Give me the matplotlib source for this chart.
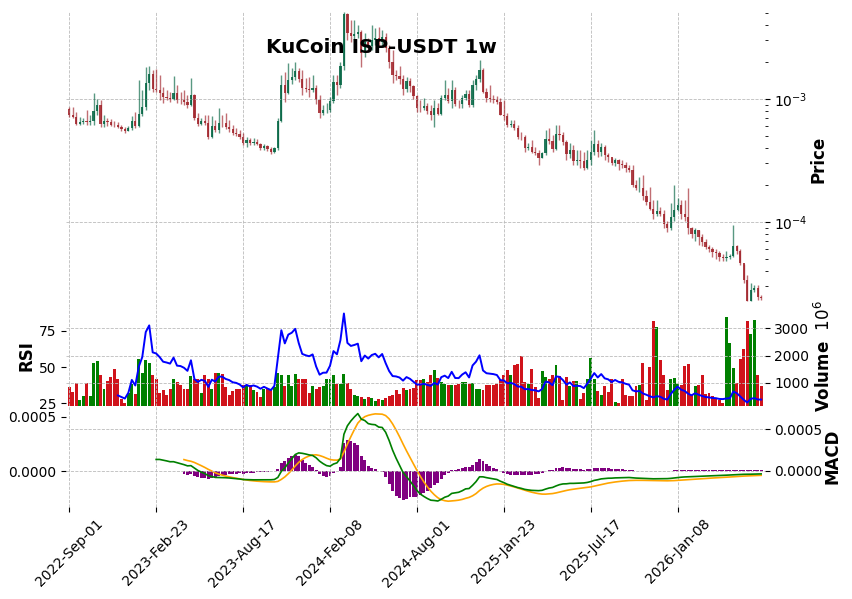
import numpy as np
import pandas as pd
import matplotlib
matplotlib.use('Agg')
import matplotlib.pyplot as plt
from matplotlib.ticker import MultipleLocator, FormatStrFormatter

# weekly candles from 2022-09-01, prices in 1e-3 USDT, volume in 1e6
start_date = '2022-09-01'
first_open = 0.83

close_k = [
    0.746, 0.718, 0.630, 0.654, 0.666, 0.654, 0.666, 0.803, 0.899, 0.630,
    0.666, 0.654, 0.619, 0.615, 0.596, 0.574, 0.553, 0.585, 0.666, 0.607,
    0.760, 0.866, 1.36, 1.61, 1.21, 1.19, 1.125, 1.04, 1.025, 1.006,
    1.125, 0.987, 0.98, 0.951, 0.899, 1.08, 0.705, 0.630, 0.666, 0.642,
    0.494, 0.607, 0.563, 0.642, 0.640, 0.596, 0.574, 0.533, 0.522, 0.494,
    0.441, 0.467, 0.441, 0.450, 0.433, 0.402, 0.417, 0.394, 0.373, 0.402,
    0.666, 1.31, 1.125, 1.44, 1.52, 1.70, 1.46, 1.24, 1.21, 1.19,
    1.24, 0.987, 0.774, 0.818, 0.82, 0.969, 1.38, 1.31, 1.87, 4.94,
    3.46, 3.27, 3.38, 3.52, 2.38, 2.92, 2.70, 3.03, 3.15, 2.92,
    3.21, 2.61, 2.01, 1.58, 1.55, 1.46, 1.21, 1.41, 1.28, 1.06,
    0.850, 0.845, 0.882, 0.803, 0.746, 0.850, 0.760, 1.025, 1.08, 0.969,
    1.19, 0.916, 0.91, 1.025, 1.10, 0.899, 1.31, 1.46, 1.73, 1.15,
    1.025, 1.006, 0.987, 0.951, 0.746, 0.732, 0.619, 0.630, 0.585, 0.494,
    0.49, 0.402, 0.405, 0.373, 0.366, 0.333, 0.366, 0.476, 0.458, 0.394,
    0.522, 0.513, 0.450, 0.359, 0.387, 0.315, 0.318, 0.313, 0.276, 0.321,
    0.373, 0.433, 0.373, 0.409, 0.352, 0.339, 0.303, 0.321, 0.298, 0.292,
    0.276, 0.266, 0.201, 0.187, 0.19, 0.161, 0.146, 0.128, 0.117, 0.122,
    0.117, 0.0969, 0.0899, 0.110, 0.126, 0.138, 0.117, 0.109, 0.0899, 0.0790,
    0.0852, 0.0760, 0.0683, 0.0621, 0.0597, 0.0565, 0.0554, 0.0515, 0.051, 0.052,
    0.0525, 0.0632, 0.0575, 0.0460, 0.0339, 0.0229, 0.0281, 0.0292, 0.0246, 0.0242,
]

high_k = [
    0.866, 0.866, 0.788, 0.718, 0.705, 0.818, 0.746, 1.125, 1.006, 0.987,
    0.746, 0.705, 0.692, 0.666, 0.654, 0.619, 0.596, 0.607, 0.732, 0.788,
    1.44, 1.19, 1.83, 1.87, 1.73, 1.75, 1.58, 1.26, 1.19, 1.15,
    1.55, 1.31, 1.15, 1.19, 1.08, 1.49, 1.10, 0.774, 0.705, 0.746,
    0.746, 0.732, 0.679, 0.850, 0.746, 0.774, 0.679, 0.619, 0.585, 0.563,
    0.533, 0.494, 0.485, 0.485, 0.476, 0.441, 0.433, 0.425, 0.409, 0.409,
    0.705, 1.58, 1.67, 1.97, 1.80, 2.01, 1.80, 1.73, 1.49, 1.52,
    1.58, 1.31, 1.08, 0.899, 0.935, 1.04, 1.58, 1.58, 2.01, 5.14,
    5.0, 4.41, 4.41, 4.0, 3.66, 3.46, 3.15, 4.0, 3.80, 3.87,
    3.66, 3.46, 2.76, 2.52, 1.73, 1.87, 1.58, 1.52, 1.49, 1.31,
    1.08, 0.987, 1.025, 0.935, 0.899, 0.987, 0.935, 1.08, 1.44, 1.24,
    1.44, 1.26, 0.987, 1.08, 1.19, 1.19, 1.44, 1.58, 2.09, 1.80,
    1.24, 1.31, 1.08, 1.06, 1.025, 0.987, 0.774, 0.679, 0.679, 0.619,
    0.543, 0.513, 0.441, 0.467, 0.409, 0.387, 0.373, 0.563, 0.585, 0.513,
    0.619, 0.619, 0.543, 0.467, 0.441, 0.425, 0.387, 0.387, 0.373, 0.387,
    0.467, 0.563, 0.467, 0.441, 0.425, 0.366, 0.333, 0.333, 0.327, 0.321,
    0.309, 0.292, 0.292, 0.221, 0.230, 0.242, 0.183, 0.194, 0.152, 0.152,
    0.131, 0.126, 0.101, 0.143, 0.201, 0.157, 0.152, 0.152, 0.190, 0.0917,
    0.0899, 0.0866, 0.0790, 0.0721, 0.0650, 0.0621, 0.0597, 0.0575, 0.0543, 0.0575,
    0.0543, 0.0951, 0.0650, 0.0597, 0.0451, 0.0372, 0.0320, 0.0309, 0.0309, 0.0254,
]

low_k = [
    0.718, 0.705, 0.619, 0.619, 0.630, 0.619, 0.619, 0.619, 0.746, 0.596,
    0.596, 0.607, 0.607, 0.596, 0.585, 0.553, 0.533, 0.545, 0.563, 0.585,
    0.596, 0.732, 0.818, 1.19, 1.15, 1.15, 0.987, 0.935, 0.987, 0.951,
    0.987, 0.935, 0.916, 0.899, 0.850, 0.882, 0.679, 0.607, 0.619, 0.619,
    0.476, 0.485, 0.543, 0.533, 0.596, 0.574, 0.543, 0.513, 0.503, 0.476,
    0.425, 0.409, 0.425, 0.425, 0.425, 0.387, 0.387, 0.380, 0.359, 0.366,
    0.387, 0.654, 0.951, 1.10, 1.33, 1.44, 1.38, 1.08, 1.15, 1.04,
    1.15, 0.916, 0.705, 0.746, 0.774, 0.788, 0.935, 1.08, 1.24, 1.73,
    3.03, 2.92, 3.03, 3.15, 1.83, 2.21, 2.43, 2.52, 2.76, 2.70,
    2.70, 2.43, 1.80, 1.36, 1.44, 1.33, 1.08, 1.15, 1.15, 1.006,
    0.788, 0.788, 0.818, 0.760, 0.679, 0.596, 0.746, 0.746, 0.987, 0.935,
    0.850, 0.882, 0.850, 0.850, 0.987, 0.866, 0.866, 1.19, 1.38, 1.12,
    0.951, 0.951, 0.935, 0.916, 0.74, 0.679, 0.596, 0.596, 0.563, 0.476,
    0.467, 0.373, 0.387, 0.366, 0.352, 0.292, 0.33, 0.352, 0.433, 0.373,
    0.385, 0.467, 0.425, 0.321, 0.333, 0.292, 0.292, 0.276, 0.266, 0.27,
    0.292, 0.352, 0.339, 0.346, 0.321, 0.309, 0.292, 0.284, 0.266, 0.276,
    0.256, 0.256, 0.194, 0.183, 0.174, 0.152, 0.136, 0.126, 0.105, 0.112,
    0.112, 0.0899, 0.0820, 0.0866, 0.101, 0.122, 0.105, 0.101, 0.0790, 0.0744,
    0.0696, 0.0650, 0.0632, 0.0597, 0.0565, 0.0515, 0.0496, 0.0477, 0.0477, 0.0477,
    0.0496, 0.0515, 0.0543, 0.0443, 0.0320, 0.0225, 0.0225, 0.0268, 0.0233, 0.0233,
]

vol_m = [
    838, 653, 985, 381, 505, 985, 505, 1740, 1790, 1270,
    777, 1048, 1208, 1517, 1147, 406, 246, 628, 936, 591,
    1863, 1357, 1826, 1740, 1270, 1147, 628, 714, 554, 777,
    1122, 1023, 924, 777, 752, 1245, 1147, 1122, 628, 1295,
    1147, 752, 1369, 1369, 1332, 838, 530, 678, 752, 752,
    900, 875, 924, 714, 653, 468, 777, 777, 777, 838,
    1369, 1295, 875, 1270, 863, 1332, 1147, 1147, 1147, 628,
    863, 752, 838, 875, 1147, 1122, 1270, 961, 936, 1332,
    985, 777, 554, 493, 468, 406, 468, 431, 320, 406,
    381, 431, 493, 554, 714, 591, 801, 740, 777, 801,
    1110, 1085, 1122, 1023, 1270, 1480, 1170, 1023, 961, 900,
    900, 900, 961, 1023, 1023, 961, 1000, 752, 752, 714,
    924, 900, 900, 961, 1085, 1270, 1455, 1270, 1665, 1702,
    1986, 1023, 961, 1492, 838, 431, 1418, 1209, 1150, 1270,
    1665, 1246, 381, 1196, 875, 1048, 1048, 406, 628, 1122,
    1900, 1122, 678, 554, 875, 653, 1147, 308, 258, 1147,
    530, 505, 505, 875, 900, 1740, 381, 1579, 3270, 3060,
    1826, 1270, 714, 1147, 1170, 961, 900, 1616, 1702, 554,
    863, 924, 1295, 591, 628, 505, 431, 345, 258, 3420,
    2480, 1542, 1000, 1863, 2233, 3270, 2776, 3307, 1270, 875,
]

closes = np.array(close_k) * 1e-3
opens = np.array([first_open] + close_k[:-1]) * 1e-3
highs = np.array(high_k) * 1e-3
lows = np.array(low_k) * 1e-3
vols = np.array(vol_m, dtype=float)
n = len(closes)
x = np.arange(n)
dates = pd.date_range(start_date, periods=n, freq='7D')

# indicators from the closes
s = pd.Series(closes)
d = s.diff()
gain = d.clip(lower=0).ewm(alpha=1 / 14, adjust=False, min_periods=14).mean()
loss = (-d.clip(upper=0)).ewm(alpha=1 / 14, adjust=False, min_periods=14).mean()
rsi = 100 - 100 / (1 + gain / loss)
ema12 = s.ewm(span=12, adjust=False, min_periods=12).mean()
ema26 = s.ewm(span=26, adjust=False, min_periods=26).mean()
macd = ema12 - ema26
signal = macd.ewm(span=9, adjust=False, min_periods=9).mean()
hist = macd - signal

up_c, dn_c = '#006340', '#a02128'
vup_c, vdn_c = '#008000', '#d0131b'
grid_kw = dict(color='#bbbbbb', linestyle='--', linewidth=0.6)

fig = plt.figure(figsize=(8.53, 5.99), dpi=100)
L, W = 0.0771, 0.8193
ax_p = fig.add_axes([L, 0.4883, W, 0.4922])
ax_v = fig.add_axes([L, 0.3230, W, 0.1653], sharex=ax_p)
ax_h = fig.add_axes([L, 0.1536, W, 0.1694], sharex=ax_p)

is_up = closes >= opens

# price candles
ax_p.vlines(x, lows, highs, colors=np.where(is_up, up_c, dn_c), linewidth=1.0, alpha=0.65)
ax_p.bar(x, np.abs(closes - opens), bottom=np.minimum(opens, closes), width=0.65,
         color=np.where(is_up, up_c, dn_c), alpha=0.85, linewidth=0)
ax_p.set_yscale('log')
ax_p.set_ylim(lows.min() * 0.91, highs.max() * 1.0)
ax_p.yaxis.tick_right()
ax_p.yaxis.set_label_position('right')
ax_p.set_ylabel('Price', fontsize=12, fontweight='bold', labelpad=1)
ax_p.grid(True, which='major', **grid_kw)
ax_p.tick_params(axis='x', bottom=False, labelbottom=False)

# volume + RSI
ax_v.bar(x, vols, width=0.85, color=np.where(is_up, vup_c, vdn_c), linewidth=0)
ax_v.set_ylim(vols.min() * 0.65, vols.max() * 1.113)
ax_v.yaxis.set_major_locator(MultipleLocator(1000))
ax_v.grid(True, **grid_kw)
ax_v.tick_params(axis='x', bottom=False, labelbottom=False)

ax_r = ax_v.twinx()
ax_r.plot(x, rsi, color='blue', linewidth=1.4)
ax_r.set_ylim(23.5, 91.9)
ax_r.set_yticks([25, 50, 75])

ax_v.yaxis.tick_right()
ax_v.yaxis.set_label_position('right')
ax_v.set_ylabel('Volume  $10^{6}$', fontsize=12, fontweight='bold', labelpad=3)
ax_r.yaxis.tick_left()
ax_r.yaxis.set_label_position('left')
ax_r.set_ylabel('RSI', fontsize=12, fontweight='bold', labelpad=2)

# MACD: histogram and signal on the left scale, MACD line on the right
ax_h.bar(x, hist, width=0.85, color='purple', linewidth=0)
ax_h.plot(x, signal, color='orange', linewidth=1.2)
ax_h.set_ylim(-0.000333, 0.000606)
ax_h.yaxis.set_major_locator(MultipleLocator(0.0005))
ax_h.yaxis.set_major_formatter(FormatStrFormatter('%.4f'))
ax_h.grid(True, axis='x', **grid_kw)

ax_m = ax_h.twinx()
ax_m.plot(x, macd, color='green', linewidth=1.2)
ax_m.set_ylim(-0.000429, 0.00078)
ax_m.yaxis.set_major_locator(MultipleLocator(0.0005))
ax_m.yaxis.set_major_formatter(FormatStrFormatter('%.4f'))
ax_m.grid(True, axis='y', **grid_kw)
ax_m.set_ylabel('MACD', fontsize=12, fontweight='bold', labelpad=1)
ax_h.yaxis.tick_left()
ax_m.yaxis.tick_right()

tick_idx = np.arange(0, n, 25)
ax_h.set_xticks(tick_idx)
ax_h.set_xticklabels([dates[i].strftime('%Y-%b-%d') for i in tick_idx], rotation=45)
ax_h.set_xlim(-1, n)

for a in (ax_p, ax_v, ax_r, ax_h, ax_m):
    for sp in a.spines.values():
        sp.set_visible(False)
    a.tick_params(labelsize=10)

fig.text(0.447, 0.921, 'KuCoin ISP-USDT 1w', ha='center', va='center',
         fontsize=14.4, fontweight='bold')

fig.savefig('out.png', dpi=100)
